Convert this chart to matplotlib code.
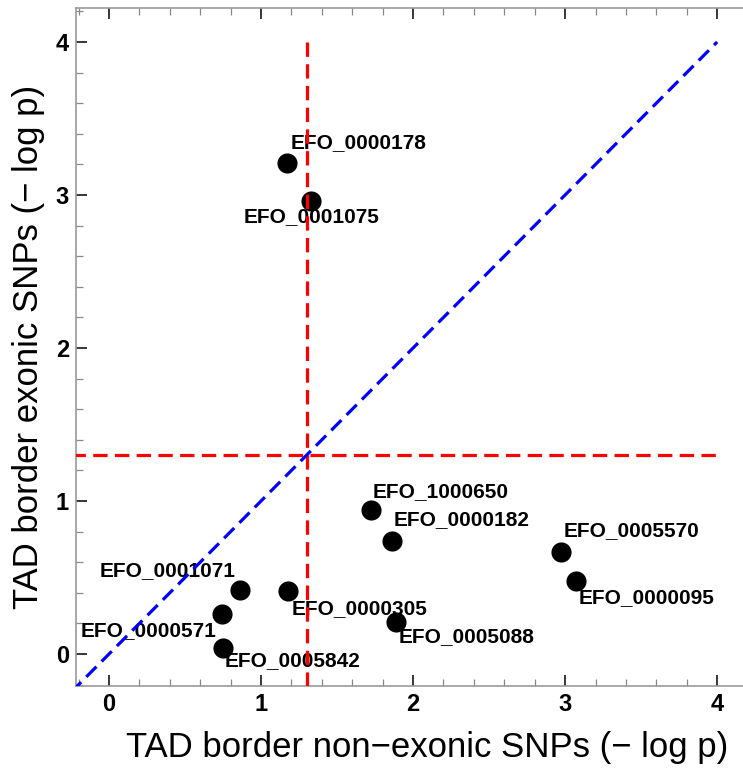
import matplotlib
matplotlib.use("Agg")
import matplotlib.pyplot as plt
from matplotlib.ticker import MultipleLocator

plt.rcParams['font.family'] = ['Liberation Sans', 'DejaVu Sans']

# -log p values
names = ["EFO_0000178", "EFO_0001075", "EFO_1000650", "EFO_0000182",
         "EFO_0005570", "EFO_0000095", "EFO_0005088", "EFO_0000305",
         "EFO_0001071", "EFO_0000571", "EFO_0005842"]
non_exonic = [1.17, 1.33, 1.72, 1.86, 2.97, 3.07, 1.89, 1.18, 0.86, 0.74, 0.75]
exonic = [3.21, 2.96, 0.94, 0.74, 0.67, 0.48, 0.21, 0.41, 0.42, 0.26, 0.04]

# label placement: offset in pixels (dx, dy) and alignment
label_pos = {
    "EFO_0000178": (4, 20, "left"),
    "EFO_0001075": (0, -15, "center"),
    "EFO_1000650": (2, 19, "left"),
    "EFO_0000182": (2, 21, "left"),
    "EFO_0005570": (3, 21, "left"),
    "EFO_0000095": (3, -17, "left"),
    "EFO_0005088": (2, -15, "left"),
    "EFO_0000305": (3, -17, "left"),
    "EFO_0001071": (-4, 19, "right"),
    "EFO_0000571": (-5, -16, "right"),
    "EFO_0005842": (2, -13, "left"),
}

threshold = 1.3
lo, hi = -0.2, 4.0

fig = plt.figure(figsize=(7.43, 7.72), dpi=100)
ax = fig.add_axes([76 / 743, 86 / 772, 1 - 76 / 743, (686 - 8) / 772])

ax.scatter(non_exonic, exonic, s=210, color='black', zorder=3, linewidths=0)
for n, x, y in zip(names, non_exonic, exonic):
    dx, dy, ha = label_pos[n]
    ax.annotate(n, (x, y), xytext=(dx * 0.72, dy * 0.72), textcoords='offset points',
                ha=ha, va='center', fontsize=15, fontweight='bold', zorder=4)

# threshold lines (vertical drawn top-down so the dash starts at y=4)
ax.plot([threshold, threshold], [hi, lo - 0.05], color='red', lw=2.3,
        dashes=(4.5, 2.3), zorder=5)
ax.plot([lo - 0.05, hi], [threshold, threshold], color='red', lw=2.3,
        dashes=(4.5, 2.3), zorder=5)
ax.plot([lo - 0.05, hi], [lo - 0.05, hi], color='blue', lw=2.3,
        dashes=(4.5, 2.3), zorder=5)

ax.set_xlim(-0.217, 4.17)
ax.set_ylim(-0.209, 4.222)
ax.xaxis.set_major_locator(MultipleLocator(1))
ax.yaxis.set_major_locator(MultipleLocator(1))
ax.xaxis.set_minor_locator(MultipleLocator(0.2))
ax.yaxis.set_minor_locator(MultipleLocator(0.2))
ax.tick_params(which='both', direction='in', top=True, right=False,
               color='#555555', labelsize=17)
ax.tick_params(which='major', length=8, width=1.1, color='black', pad=5)
ax.tick_params(which='minor', length=5, width=0.9, color='#888888')
for lab in ax.get_xticklabels() + ax.get_yticklabels():
    lab.set_fontweight('bold')
for side in ['left', 'bottom', 'top']:
    ax.spines[side].set_color('#999999')
    ax.spines[side].set_linewidth(1.2)
ax.spines['right'].set_visible(False)

ax.set_xlabel("TAD border non\u2212exonic SNPs (\u2212 log p)", fontsize=25)
ax.xaxis.set_label_coords((427 - 76) / (743 - 76), -0.066)
ax.set_ylabel("TAD border exonic SNPs (\u2212 log p)", fontsize=25, labelpad=8)

fig.savefig("out.png", dpi=100)
